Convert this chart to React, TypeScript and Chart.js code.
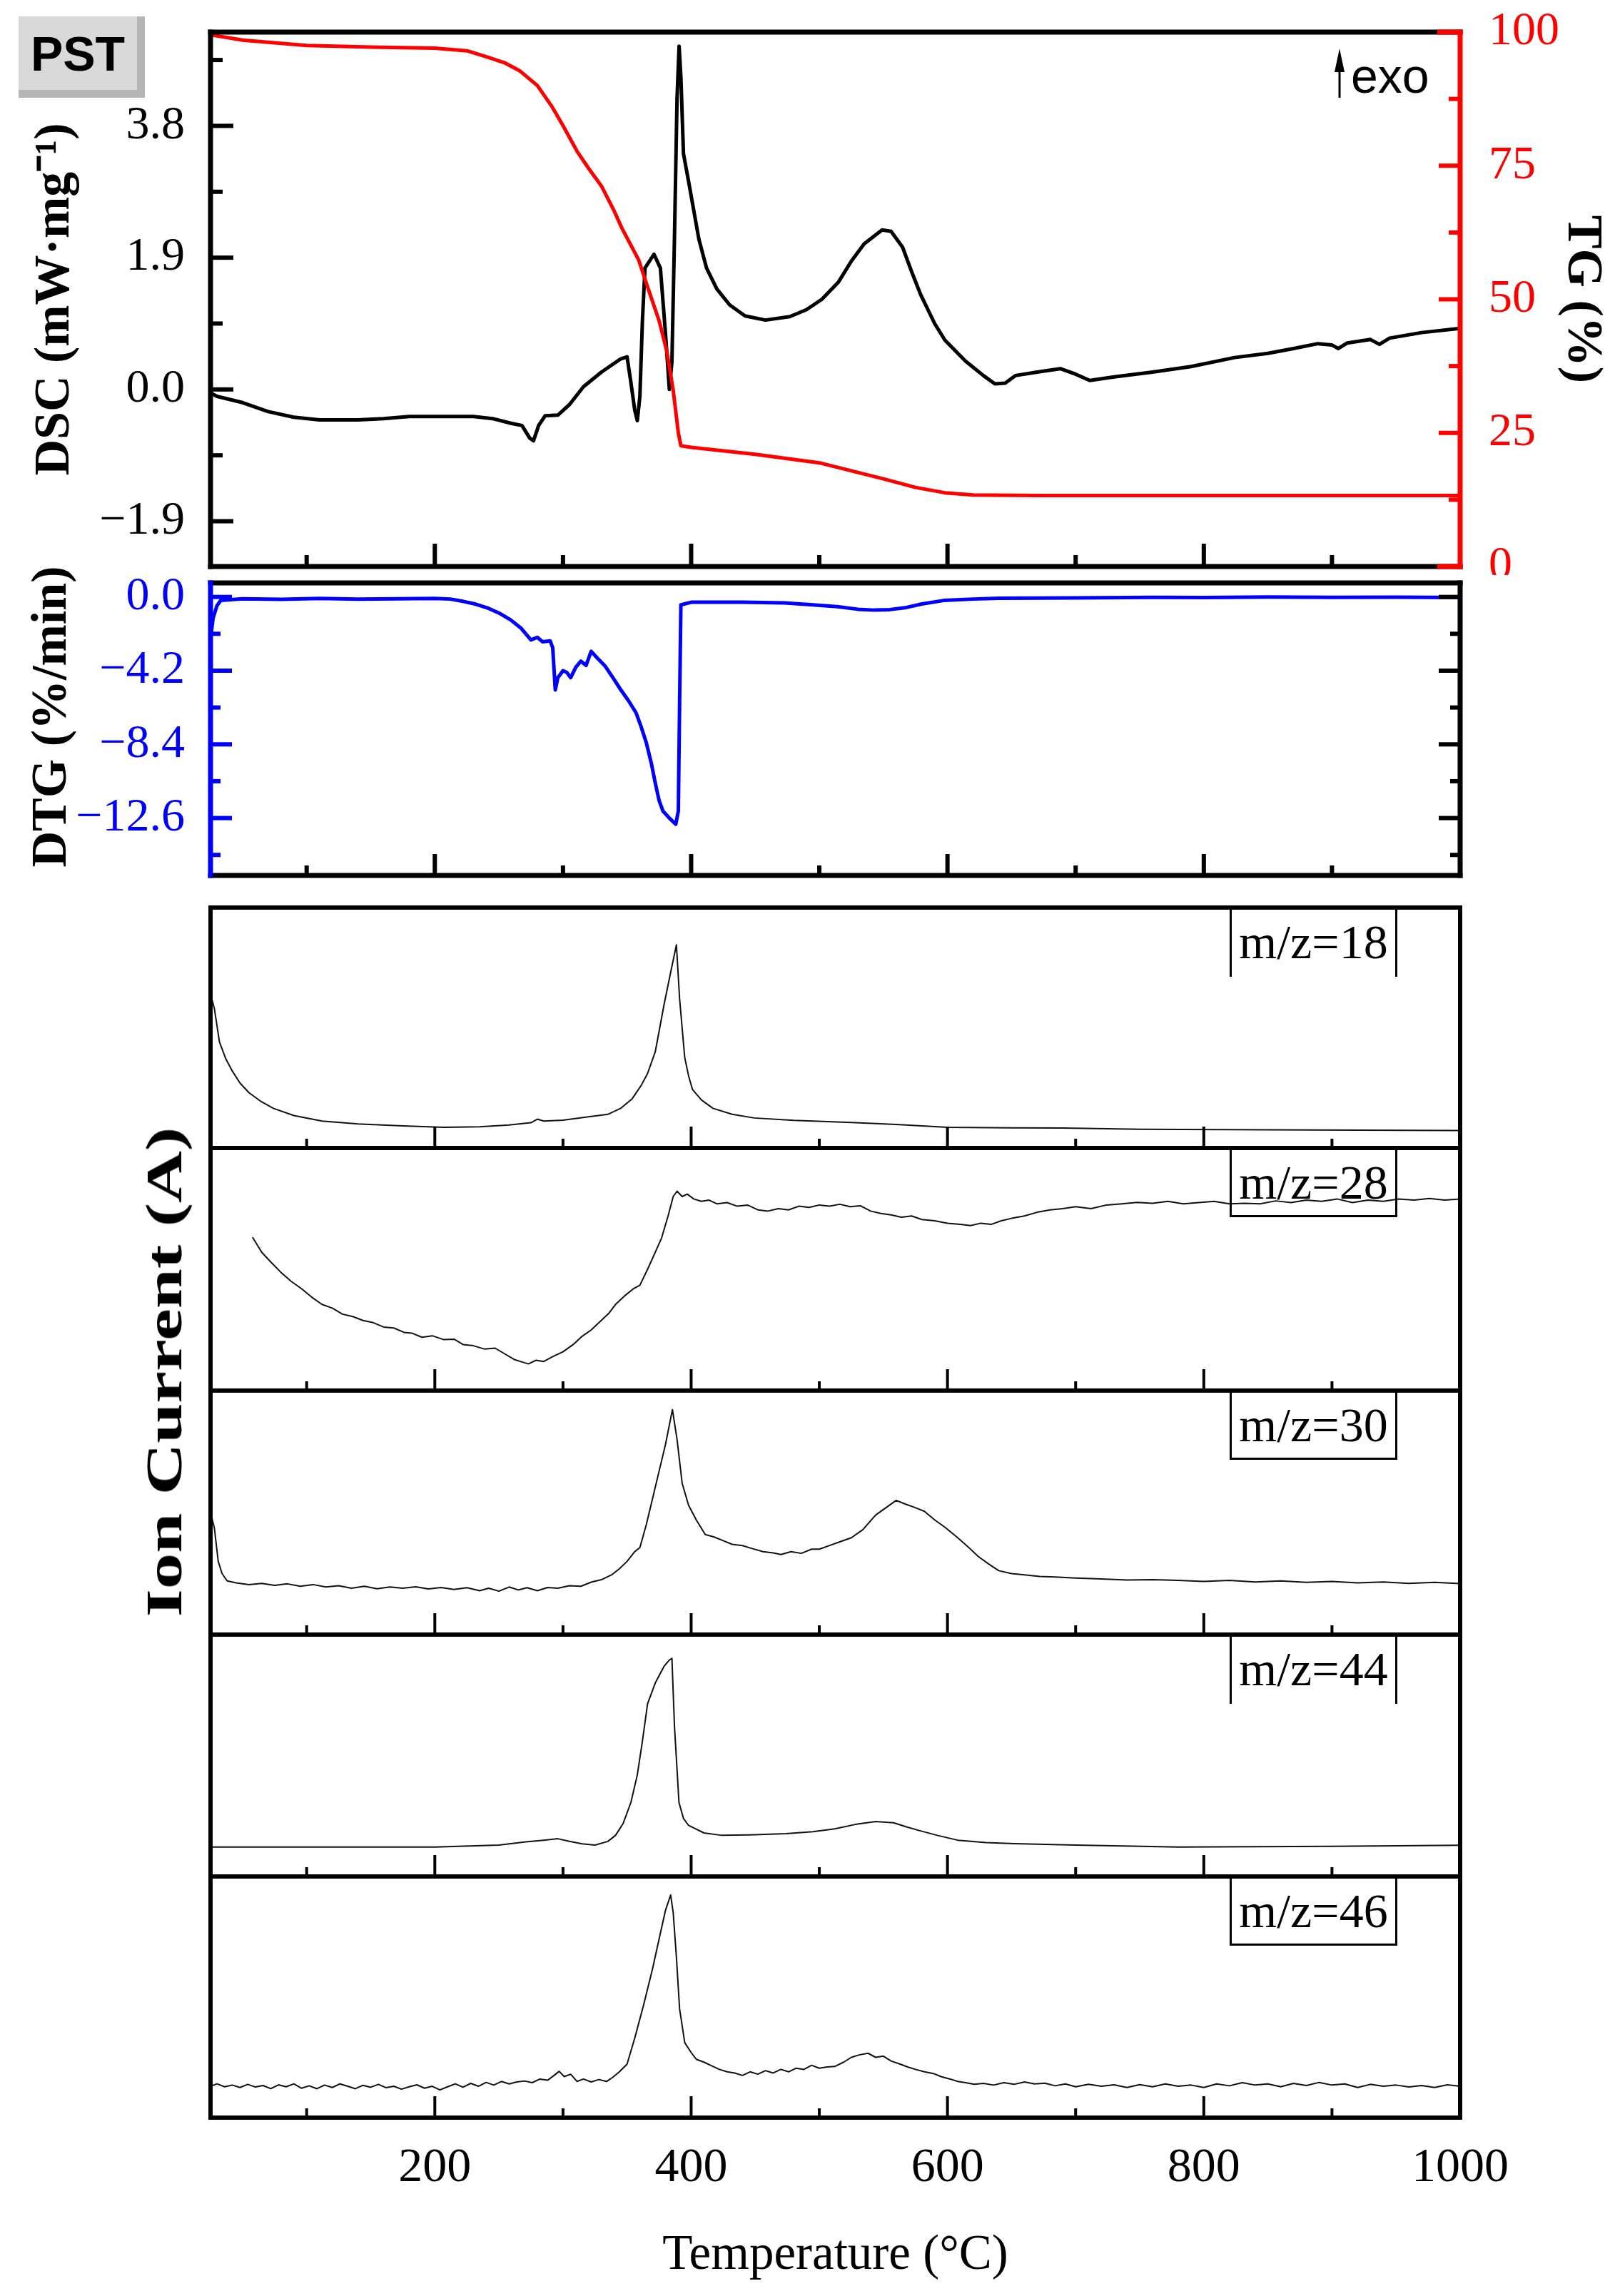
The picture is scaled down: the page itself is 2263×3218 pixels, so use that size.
import React, { useEffect, useRef } from 'react';
import { Chart, registerables } from 'chart.js';

Chart.register(...registerables);

// ---------------- data ----------------
const X_MIN = 25;
const X_MAX = 1000;
const X_LABELS = [200, 400, 600, 800, 1000];
const X_MAJOR = [200, 400, 600, 800];
const X_MINOR = [100, 300, 500, 700, 900];

const DSC_TICKS = [-1.9, 0, 1.9, 3.8];
const DSC_MINOR = [-0.95, 0.95, 2.85, 4.75];
const TG_TICKS = [0, 25, 50, 75, 100];
const TG_MINOR = [12.5, 37.5, 62.5, 87.5];
const DTG_TICKS = [-12.6, -8.4, -4.2, 0];
const DTG_MINOR = [-14.7, -10.5, -6.3, -2.1];

const DSC_T = [25, 30, 50, 70, 90, 110, 140, 160, 180, 200, 230, 245, 260, 268, 274, 277, 281, 286, 296, 305, 316, 330, 345, 350, 353, 356, 358, 360, 362, 364, 371, 376, 380, 383, 385, 387, 389, 390.6, 392, 394, 398, 406, 412, 420, 430, 442, 458, 477, 490, 502, 515, 525, 535, 549, 556, 565, 572, 579, 590, 598, 614, 628, 637, 645, 653, 670, 688, 700, 711, 730, 760, 790, 824, 850, 870, 889, 900, 905, 912, 930, 937, 945, 970, 1000];
const DSC_V = [-0.05, -0.1, -0.19, -0.32, -0.4, -0.44, -0.44, -0.42, -0.39, -0.39, -0.39, -0.42, -0.49, -0.52, -0.7, -0.74, -0.52, -0.38, -0.37, -0.22, 0.04, 0.25, 0.44, 0.47, 0.1, -0.3, -0.45, -0.1, 1.0, 1.75, 1.95, 1.75, 0.8, 0.0, 0.4, 2.2, 4.2, 4.95, 4.5, 3.4, 3.0, 2.17, 1.75, 1.45, 1.22, 1.06, 1.0, 1.05, 1.15, 1.3, 1.55, 1.85, 2.1, 2.3, 2.28, 2.05, 1.7, 1.37, 0.95, 0.71, 0.41, 0.2, 0.08, 0.09, 0.2, 0.25, 0.3, 0.22, 0.13, 0.18, 0.25, 0.33, 0.46, 0.52, 0.59, 0.66, 0.64, 0.59, 0.67, 0.72, 0.65, 0.74, 0.82, 0.88];

const TG_T = [25, 50, 100, 150, 200, 225, 240, 255, 266, 280, 291, 300, 311, 320, 330, 340, 346, 359, 368, 375, 381, 386, 390, 392, 400, 450, 500, 530, 550, 575, 598, 620, 669, 1000];
const TG_V = [99.5, 98.5, 97.5, 97.2, 97.0, 96.5, 95.4, 94.2, 92.8, 90.0, 86.2, 82.5, 77.7, 74.5, 71.2, 66.5, 63.3, 57.4, 50.9, 46.0, 40.3, 33, 25, 22.6, 22.3, 21.0, 19.4, 17.6, 16.4, 14.8, 13.8, 13.4, 13.3, 13.3];

const DTG_T = [25, 27, 30, 33, 50, 80, 110, 140, 170, 200, 212, 222, 232, 242, 251, 259, 267, 271, 275, 280, 284, 290, 292, 294, 296, 300, 303, 306, 310, 314, 318, 322, 327, 333, 339, 345, 351, 357, 361, 365, 369, 372, 375, 378, 383, 388, 390, 391, 392, 400, 440, 473, 495, 514, 530, 543, 555, 568, 580, 597, 620, 640, 700, 760, 800, 850, 900, 950, 1000];
const DTG_V = [-2.4, -1.2, -0.5, -0.2, -0.1, -0.14, -0.08, -0.12, -0.1, -0.08, -0.12, -0.25, -0.41, -0.65, -0.95, -1.3, -1.76, -2.1, -2.45, -2.3, -2.55, -2.5, -2.9, -5.3, -4.6, -4.2, -4.3, -4.6, -4.0, -3.66, -3.9, -3.1, -3.5, -3.95, -4.6, -5.28, -5.9, -6.6, -7.4, -8.3, -9.5, -10.6, -11.6, -12.2, -12.6, -12.95, -12.2, -6, -0.45, -0.3, -0.3, -0.34, -0.45, -0.55, -0.7, -0.75, -0.72, -0.6, -0.4, -0.2, -0.12, -0.07, -0.05, -0.02, -0.03, 0.0, -0.02, -0.01, -0.03];

// Ion current (arbitrary units, each panel scaled 0..1)
const MS18_T = [25, 28, 32, 37, 42, 48, 55, 64, 74, 90, 112, 140, 175, 207, 235, 258, 275, 280, 285, 300, 320, 335, 345, 354, 361, 366, 372, 379, 384, 388.5, 391, 395, 398, 401, 408, 417, 432, 449, 480, 525, 560, 600, 650, 690, 750, 850, 995, 1000];
const MS18_V = [0.64, 0.58, 0.44, 0.37, 0.32, 0.27, 0.23, 0.195, 0.165, 0.135, 0.112, 0.1, 0.092, 0.086, 0.088, 0.096, 0.105, 0.12, 0.112, 0.116, 0.13, 0.14, 0.165, 0.205, 0.26, 0.31, 0.4, 0.6, 0.73, 0.845, 0.62, 0.376, 0.3, 0.244, 0.2, 0.165, 0.14, 0.125, 0.115, 0.106, 0.098, 0.086, 0.084, 0.083, 0.078, 0.076, 0.073, 0.073];

const MS28_T = [58, 65, 72, 80, 88, 96, 104, 112, 120, 128, 136, 144, 152, 160, 168, 176, 182, 190, 198, 207, 215, 222, 230, 239, 247, 255, 262, 268, 273, 279, 285, 292, 300, 308, 315, 322, 330, 336, 341, 348, 355, 360, 366, 372, 377, 382, 386, 389, 393, 397, 402, 408, 414, 420, 428, 436, 444, 452, 460, 468, 476, 484, 492, 500, 508, 516, 524, 532, 540, 548, 556, 564, 572, 580, 590, 600, 610, 618, 626, 634, 642, 650, 660, 670, 680, 690, 700, 712, 724, 736, 748, 760, 772, 784, 796, 808, 820, 832, 844, 856, 868, 880, 892, 904, 916, 928, 940, 952, 964, 976, 988, 1000];
const MS28_V = [0.63, 0.57, 0.53, 0.487, 0.45, 0.42, 0.385, 0.355, 0.34, 0.315, 0.305, 0.289, 0.28, 0.262, 0.258, 0.24, 0.237, 0.22, 0.226, 0.21, 0.212, 0.19, 0.185, 0.171, 0.175, 0.15, 0.128, 0.118, 0.11, 0.125, 0.12, 0.14, 0.16, 0.19, 0.224, 0.25, 0.29, 0.32, 0.355, 0.39, 0.42, 0.434, 0.5, 0.57, 0.63, 0.72, 0.8, 0.822, 0.8, 0.81, 0.79, 0.78, 0.785, 0.77, 0.775, 0.76, 0.765, 0.745, 0.74, 0.75, 0.745, 0.76, 0.755, 0.765, 0.76, 0.768, 0.758, 0.762, 0.74, 0.73, 0.724, 0.715, 0.72, 0.705, 0.7, 0.69, 0.685, 0.68, 0.69, 0.685, 0.7, 0.71, 0.72, 0.735, 0.745, 0.75, 0.758, 0.75, 0.765, 0.77, 0.776, 0.772, 0.78, 0.77, 0.775, 0.78, 0.77, 0.772, 0.77, 0.782, 0.775, 0.785, 0.78, 0.79, 0.775, 0.785, 0.78, 0.79, 0.785, 0.792, 0.785, 0.79];

const MS30_T = [25, 28, 31, 34, 38, 45, 55, 65, 75, 85, 95, 105, 115, 125, 135, 145, 155, 165, 175, 185, 195, 205, 215, 225, 235, 242, 250, 258, 265, 272, 280, 288, 296, 305, 314, 322, 330, 338, 344, 350, 356, 360, 365, 370, 375, 380, 385.4, 389, 393, 398, 404, 411, 418, 425, 432, 440, 448, 456, 464, 470, 478, 486, 494, 500, 508, 516, 525, 534, 544, 552, 560, 567, 575, 582, 590, 598, 608, 616, 624, 632, 640, 650, 660, 672, 684, 700, 720, 740, 760, 780, 800, 820, 840, 860, 880, 900, 920, 940, 960, 980, 1000];
const MS30_V = [0.5, 0.437, 0.3, 0.25, 0.22, 0.212, 0.205, 0.21, 0.202, 0.208, 0.198, 0.205, 0.195, 0.2, 0.19, 0.198, 0.188, 0.195, 0.19, 0.196, 0.187, 0.193, 0.185, 0.192, 0.18, 0.19, 0.178, 0.195, 0.183, 0.192, 0.18, 0.193, 0.19, 0.2, 0.198, 0.215, 0.225, 0.245, 0.27, 0.3, 0.34, 0.357, 0.45, 0.56, 0.67, 0.78, 0.922, 0.8, 0.62, 0.53, 0.47, 0.41, 0.4, 0.385, 0.37, 0.365, 0.352, 0.34, 0.335, 0.328, 0.34, 0.333, 0.35, 0.35, 0.365, 0.38, 0.397, 0.43, 0.49, 0.52, 0.55, 0.535, 0.52, 0.505, 0.47, 0.44, 0.397, 0.36, 0.32, 0.29, 0.262, 0.25, 0.245, 0.238, 0.236, 0.232, 0.228, 0.224, 0.225, 0.222, 0.218, 0.222, 0.216, 0.22, 0.214, 0.218, 0.212, 0.216, 0.21, 0.214, 0.209];

const MS44_T = [25, 100, 200, 250, 271, 285, 296, 305, 315, 325, 335, 341, 347, 353, 358, 362, 366, 372, 379, 383, 385, 387, 390.5, 394, 398, 410, 424, 445, 474, 495, 512, 528, 544, 558, 568, 578, 592, 608, 630, 652, 700, 780, 900, 1000];
const MS44_V = [0.122, 0.122, 0.122, 0.13, 0.143, 0.15, 0.156, 0.145, 0.135, 0.13, 0.145, 0.17, 0.22, 0.306, 0.42, 0.56, 0.714, 0.8, 0.87, 0.895, 0.902, 0.62, 0.306, 0.24, 0.211, 0.18, 0.17, 0.172, 0.177, 0.185, 0.197, 0.215, 0.227, 0.222, 0.205, 0.19, 0.17, 0.15, 0.14, 0.136, 0.13, 0.122, 0.125, 0.129];

const MS46_T = [25, 30, 36, 42, 48, 54, 60, 66, 72, 78, 84, 90, 96, 102, 108, 114, 120, 126, 132, 138, 144, 150, 156, 162, 168, 174, 180, 186, 192, 198, 204, 210, 216, 222, 228, 234, 240, 246, 252, 258, 264, 270, 276, 282, 288, 293, 297, 301, 306, 311, 316, 322, 328, 334, 339, 344, 350, 356, 363, 370, 376, 380, 384, 386, 388.5, 391, 395, 400, 404, 410, 416, 422, 428, 434, 440, 446, 452, 458, 464, 470, 476, 482, 488, 494, 500, 506, 512, 519, 525, 531, 538, 544, 550, 556, 563, 569, 575, 582, 589, 595, 602, 608, 614, 621, 628, 636, 644, 652, 660, 668, 676, 684, 692, 700, 710, 720, 730, 740, 750, 760, 770, 780, 790, 800, 810, 820, 830, 840, 850, 860, 870, 880, 890, 900, 910, 920, 930, 940, 950, 960, 970, 980, 990, 1000];
const MS46_V = [0.13, 0.14, 0.128, 0.135, 0.125, 0.138, 0.127, 0.133, 0.12, 0.136, 0.128, 0.14, 0.122, 0.132, 0.12, 0.135, 0.125, 0.14, 0.13, 0.12, 0.134, 0.126, 0.138, 0.124, 0.13, 0.118, 0.128, 0.136, 0.122, 0.13, 0.115, 0.128, 0.14, 0.126, 0.142, 0.13, 0.146, 0.135, 0.15, 0.14, 0.148, 0.152, 0.145, 0.16, 0.155, 0.175, 0.192, 0.17, 0.18, 0.15, 0.16, 0.148, 0.158, 0.15, 0.168, 0.19, 0.222, 0.33, 0.469, 0.62, 0.765, 0.86, 0.923, 0.85, 0.666, 0.45, 0.311, 0.27, 0.242, 0.23, 0.215, 0.2, 0.19, 0.185, 0.175, 0.19, 0.18, 0.195, 0.185, 0.2, 0.19, 0.205, 0.2, 0.217, 0.205, 0.21, 0.212, 0.23, 0.25, 0.26, 0.267, 0.25, 0.255, 0.235, 0.222, 0.21, 0.2, 0.19, 0.183, 0.17, 0.16, 0.15, 0.145, 0.138, 0.142, 0.135, 0.145, 0.138, 0.148, 0.14, 0.143, 0.132, 0.14, 0.128, 0.138, 0.13, 0.136, 0.125, 0.137, 0.128, 0.14, 0.13, 0.135, 0.125, 0.14, 0.132, 0.145, 0.135, 0.14, 0.128, 0.142, 0.133, 0.146, 0.135, 0.14, 0.125, 0.138, 0.13, 0.135, 0.127, 0.133, 0.125, 0.136, 0.13];

const MS_LABELS = ['m/z=18', 'm/z=28', 'm/z=30', 'm/z=44', 'm/z=46'];

// ---------------- layout ----------------
const W = 2263;
const H = 3218;
const PLOT_L = 295;
const PLOT_R = 2046;
const SERIF = "'Liberation Serif', 'Times New Roman', serif";
const SANS = "'Liberation Sans', Arial, sans-serif";

const pts = (xs: number[], ys: number[]) => xs.map((x, i) => ({ x, y: ys[i] }));
const fmt1 = (v: number) => (v < -1e-9 ? '\u2212' + Math.abs(v).toFixed(1) : Math.abs(v).toFixed(1));

type TickSet = { major: number[]; minor: number[]; majLen: number; minLen: number; color: string; width: number; scale?: string };
type FrameOpts = {
  lw: number;
  colors: { top: string; bottom: string; left: string; right: string };
  bottom?: TickSet;
  left?: TickSet;
  right?: TickSet;
  redCorner?: number;
};

function framePlugin(id: string, o: FrameOpts) {
  return {
    id,
    afterDatasetsDraw(chart: any) {
      const { ctx, chartArea: a, scales } = chart;
      ctx.save();
      ctx.lineCap = 'butt';
      const seg = (x1: number, y1: number, x2: number, y2: number, c: string, w: number) => {
        ctx.strokeStyle = c;
        ctx.lineWidth = w;
        ctx.beginPath();
        ctx.moveTo(x1, y1);
        ctx.lineTo(x2, y2);
        ctx.stroke();
      };
      if (o.bottom) {
        const t = o.bottom;
        const sx = scales.x;
        t.major.forEach((v) => { const p = sx.getPixelForValue(v); seg(p, a.bottom, p, a.bottom - t.majLen, t.color, t.width); });
        t.minor.forEach((v) => { const p = sx.getPixelForValue(v); seg(p, a.bottom, p, a.bottom - t.minLen, t.color, t.width); });
      }
      if (o.left) {
        const t = o.left;
        const sy = scales[t.scale || 'y'];
        t.major.forEach((v) => { const p = sy.getPixelForValue(v); seg(a.left, p, a.left + t.majLen, p, t.color, t.width); });
        t.minor.forEach((v) => { const p = sy.getPixelForValue(v); seg(a.left, p, a.left + t.minLen, p, t.color, t.width); });
      }
      if (o.right) {
        const t = o.right;
        const sy = scales[t.scale || 'y'];
        t.major.forEach((v) => { const p = sy.getPixelForValue(v); seg(a.right, p, a.right - t.majLen, p, t.color, t.width); });
        t.minor.forEach((v) => { const p = sy.getPixelForValue(v); seg(a.right, p, a.right - t.minLen, p, t.color, t.width); });
      }
      const h = o.lw / 2;
      seg(a.left - h, a.top, a.right + h, a.top, o.colors.top, o.lw);
      seg(a.left - h, a.bottom, a.right + h, a.bottom, o.colors.bottom, o.lw);
      if (o.redCorner) {
        seg(a.right - o.redCorner, a.top, a.right + h, a.top, o.colors.right, o.lw);
        seg(a.right - o.redCorner, a.bottom, a.right + h, a.bottom, o.colors.right, o.lw);
      }
      seg(a.left, a.top - h, a.left, a.bottom + h, o.colors.left, o.lw);
      seg(a.right, a.top - h, a.right, a.bottom + h, o.colors.right, o.lw);
      ctx.restore();
    },
  };
}

const baseOpts = {
  responsive: false,
  animation: false,
  devicePixelRatio: 1,
  events: [],
  plugins: { legend: { display: false }, tooltip: { enabled: false } },
};

const lineDs = (label: string, xs: number[], ys: number[], color: string, width: number, axis = 'y', order = 0) => ({
  label,
  data: pts(xs, ys),
  borderColor: color,
  backgroundColor: color,
  borderWidth: width,
  pointRadius: 0,
  tension: 0,
  fill: false,
  yAxisID: axis,
  order,
  borderJoinStyle: 'round',
  borderCapStyle: 'round',
});

const hiddenX = { type: 'linear', min: X_MIN, max: X_MAX, display: false };

// ----- chart A: DSC + TG -----
const A_TOP = 0, A_H = 806;
const makeA = () => ({
  type: 'line',
  data: {
    datasets: [
      lineDs('DSC', DSC_T, DSC_V, '#000000', 5, 'y', 1),
      lineDs('TG', TG_T, TG_V, '#ff0000', 5, 'y2', 0),
    ],
  },
  options: {
    ...baseOpts,
    layout: { padding: { top: 45 - A_TOP, bottom: A_H - 794, left: 0, right: 0 } },
    scales: {
      x: hiddenX,
      y: {
        type: 'linear', position: 'left', min: -2.553, max: 5.152,
        afterBuildTicks: (s: any) => { s.ticks = DSC_TICKS.map((v) => ({ value: v })); },
        afterFit: (s: any) => { s.width = PLOT_L; s.paddingTop = 0; s.paddingBottom = 0; },
        grid: { display: false, drawTicks: false },
        border: { display: false },
        ticks: { color: '#000', padding: 36, font: { family: SERIF, size: 66 }, callback: (v: any) => fmt1(Number(v)) },
        title: { display: true, text: 'DSC (mW\u00b7mg\u207b\u00b9)', color: '#000', font: { family: SERIF, size: 70, weight: 'bold' }, padding: { top: 36, bottom: 0 } },
      },
      y2: {
        type: 'linear', position: 'right', min: 0, max: 100,
        afterBuildTicks: (s: any) => { s.ticks = TG_TICKS.map((v) => ({ value: v })); },
        afterFit: (s: any) => { s.width = W - PLOT_R; s.paddingTop = 0; s.paddingBottom = 0; },
        grid: { display: false, drawTicks: false },
        border: { display: false },
        ticks: { color: '#ff0000', padding: 40, font: { family: SERIF, size: 66 }, callback: (v: any) => String(v) },
        title: { display: true, text: 'TG (%)', color: '#000', font: { family: SERIF, size: 70, weight: 'bold' }, padding: { top: 5, bottom: 0 } },
      },
    },
  },
  plugins: [
    framePlugin('frameA', {
      lw: 7,
      colors: { top: '#000', bottom: '#000', left: '#000', right: '#ff0000' },
      redCorner: 32,
      bottom: { major: X_MAJOR, minor: X_MINOR, majLen: 32, minLen: 16, color: '#000', width: 6 },
      left: { major: DSC_TICKS, minor: DSC_MINOR, majLen: 32, minLen: 17, color: '#000', width: 6, scale: 'y' },
      right: { major: TG_TICKS, minor: TG_MINOR, majLen: 30, minLen: 16, color: '#ff0000', width: 6, scale: 'y2' },
    }),
  ],
});

// ----- chart B: DTG -----
const B_TOP = 760, B_H = 486;
const makeB = () => ({
  type: 'line',
  data: { datasets: [lineDs('DTG', DTG_T, DTG_V, '#0000ff', 5, 'y', 0)] },
  options: {
    ...baseOpts,
    layout: { padding: { top: 817 - B_TOP, bottom: B_TOP + B_H - 1227, left: 0, right: W - PLOT_R } },
    scales: {
      x: hiddenX,
      y: {
        type: 'linear', position: 'left', min: -15.87, max: 0.8,
        afterBuildTicks: (s: any) => { s.ticks = DTG_TICKS.map((v) => ({ value: v })); },
        afterFit: (s: any) => { s.width = PLOT_L; s.paddingTop = 0; s.paddingBottom = 0; },
        grid: { display: false, drawTicks: false },
        border: { display: false },
        ticks: { color: '#0000ff', padding: 36, font: { family: SERIF, size: 66 }, callback: (v: any) => fmt1(Number(v)) },
        title: { display: true, text: '\u2002DTG (%/min)', color: '#000', font: { family: SERIF, size: 70, weight: 'bold' }, padding: { top: 32, bottom: 0 } },
      },
    },
  },
  plugins: [
    framePlugin('frameB', {
      lw: 7,
      colors: { top: '#000', bottom: '#000', left: '#0000ff', right: '#000' },
      bottom: { major: X_MAJOR, minor: X_MINOR, majLen: 30, minLen: 14, color: '#000', width: 6 },
      left: { major: DTG_TICKS, minor: DTG_MINOR, majLen: 30, minLen: 14, color: '#0000ff', width: 6 },
      right: { major: DTG_TICKS, minor: DTG_MINOR, majLen: 30, minLen: 14, color: '#000', width: 6 },
    }),
  ],
});

// ----- MS panels -----
const MS_BOUNDS = [1272, 1609, 1949, 2291, 2630, 2968];
const MS_SERIES = [
  [MS18_T, MS18_V],
  [MS28_T, MS28_V],
  [MS30_T, MS30_V],
  [MS44_T, MS44_V],
  [MS46_T, MS46_V],
];
const MS_BOX_BOTTOM = [false, true, true, false, true];

const msCanvas = (i: number) => {
  const top = MS_BOUNDS[i] - 20;
  const last = i === MS_SERIES.length - 1;
  const bottom = last ? H : MS_BOUNDS[i + 1] + 20;
  return { top, height: bottom - top };
};

const makeMS = (i: number) => () => {
  const { top, height } = msCanvas(i);
  const last = i === MS_SERIES.length - 1;
  const pTop = MS_BOUNDS[i];
  const pBot = MS_BOUNDS[i + 1];
  const xScale = last
    ? {
        type: 'linear', min: X_MIN, max: X_MAX, position: 'bottom',
        afterBuildTicks: (s: any) => { s.ticks = X_LABELS.map((v) => ({ value: v })); },
        afterFit: (s: any) => { s.height = H - pBot; s.paddingLeft = 0; s.paddingRight = 0; },
        grid: { display: false, drawTicks: false },
        border: { display: false },
        ticks: { color: '#000', padding: 30, maxRotation: 0, autoSkip: false, font: { family: SERIF, size: 68 }, callback: (v: any) => String(v) },
        title: { display: true, text: 'Temperature (\u00b0C)', color: '#000', font: { family: SERIF, size: 69 }, padding: { top: 0, bottom: 15 } },
      }
    : hiddenX;
  return {
    type: 'line',
    data: { datasets: [lineDs(MS_LABELS[i], MS_SERIES[i][0], MS_SERIES[i][1], '#111111', 2, 'y', 0)] },
    options: {
      ...baseOpts,
      layout: { padding: { top: pTop - top, bottom: last ? 0 : top + height - pBot, left: PLOT_L, right: W - PLOT_R } },
      scales: {
        x: xScale,
        y: { type: 'linear', min: 0, max: 1, display: false },
      },
    },
    plugins: [
      framePlugin('frameMS' + i, {
        lw: 6,
        colors: { top: '#000', bottom: '#000', left: '#000', right: '#000' },
        bottom: { major: X_MAJOR, minor: X_MINOR, majLen: 30, minLen: 13, color: '#000', width: 4 },
      }),
    ],
  };
};

function ChartBox({ top, height, make }: { top: number; height: number; make: () => any }) {
  const ref = useRef<HTMLCanvasElement>(null);
  useEffect(() => {
    const c = new Chart(ref.current as HTMLCanvasElement, make());
    return () => c.destroy();
  }, []);
  return (
    <canvas
      ref={ref}
      width={W}
      height={height}
      style={{ position: 'absolute', left: 0, top, width: W, height, display: 'block' }}
    />
  );
}

export default function App() {
  return (
    <div style={{ position: 'absolute', left: 0, top: 0, width: W, height: H, background: '#ffffff', overflow: 'hidden' }}>
      <ChartBox top={A_TOP} height={A_H} make={makeA} />
      <ChartBox top={B_TOP} height={B_H} make={makeB} />
      {MS_SERIES.map((_, i) => {
        const c = msCanvas(i);
        return <ChartBox key={i} top={c.top} height={c.height} make={makeMS(i)} />;
      })}

      {/* PST badge */}
      <div
        style={{
          position: 'absolute', left: 26, top: 23, width: 166, height: 103,
          background: '#d9d9d9', borderRight: '11px solid #b5b5b5', borderBottom: '11px solid #b5b5b5',
          display: 'flex', alignItems: 'center', justifyContent: 'center',
          fontFamily: SANS, fontWeight: 'bold', fontSize: 68, color: '#000', lineHeight: '68px',
        }}
      >
        PST
      </div>

      {/* exo marker */}
      <svg style={{ position: 'absolute', left: 0, top: 0 }} width={W} height={200}>
        <line x1={1877} y1={100} x2={1877} y2={137} stroke="#000" strokeWidth={3} />
        <polygon points="1870,101 1884,101 1877,68" fill="#000" />
      </svg>
      <div style={{ position: 'absolute', left: 1893, top: 72, fontFamily: SANS, fontSize: 68, lineHeight: '68px', color: '#000', whiteSpace: 'nowrap' }}>
        exo
      </div>

      {/* Ion current axis title */}
      <div
        style={{
          position: 'absolute', left: 230, top: 1923, transform: 'translate(-50%, -50%) rotate(-90deg) scaleX(1.4)',
          fontFamily: SERIF, fontWeight: 'bold', fontSize: 72, lineHeight: '80px', color: '#000', whiteSpace: 'nowrap',
        }}
      >
        Ion Current (A)
      </div>

      {/* m/z labels */}
      {MS_LABELS.map((t, i) => (
        <div
          key={t}
          style={{
            position: 'absolute', left: 1723, top: MS_BOUNDS[i], width: 235, height: 97, boxSizing: 'border-box',
            borderLeft: '3px solid #000', borderRight: '3px solid #000',
            borderBottom: MS_BOX_BOTTOM[i] ? '3px solid #000' : 'none',
            fontFamily: SERIF, fontSize: 68, lineHeight: '97px', textAlign: 'center', color: '#000', whiteSpace: 'nowrap',
          }}
        >
          {t}
        </div>
      ))}
    </div>
  );
}
